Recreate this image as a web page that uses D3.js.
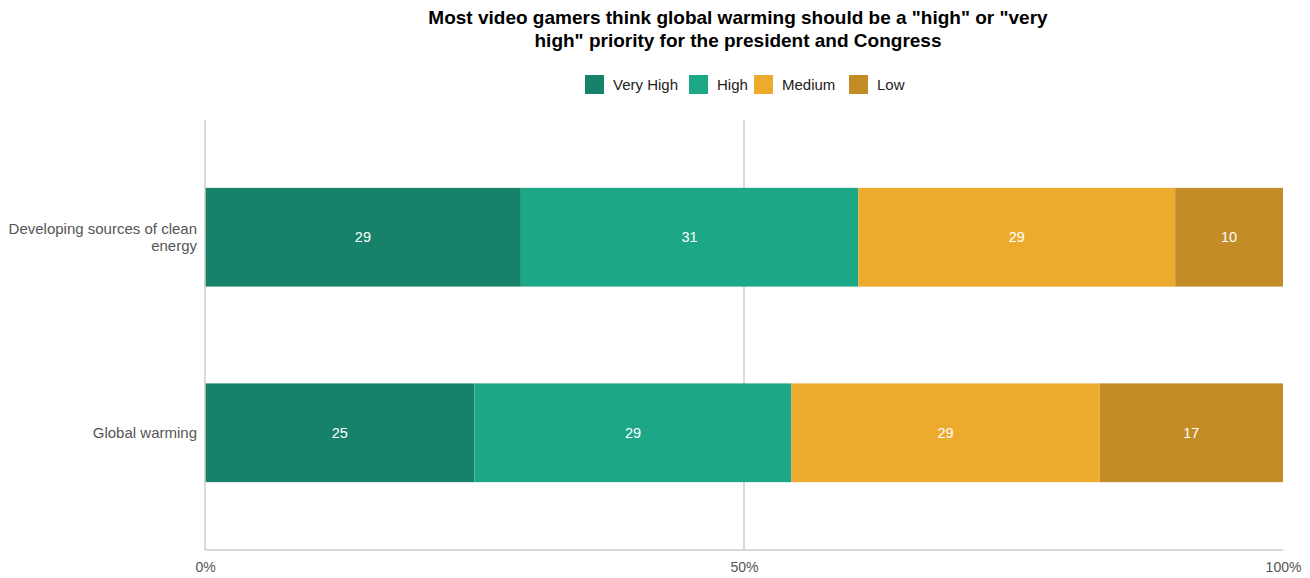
<!DOCTYPE html>
<html><head><meta charset="utf-8">
<script src="https://cdn.jsdelivr.net/npm/d3@7"></script>
<style>body{margin:0;background:#fff;font-family:"Liberation Sans",Arial,sans-serif;}</style>
</head><body>
<svg id="chart" width="1310" height="578"></svg>
<script>
const categories = ["Developing sources of clean energy", "Global warming"];
const seriesNames = ["Very High", "High", "Medium", "Low"];
const veryHigh = [29.3, 25.0];
const high = [31.3, 29.4];
const medium = [29.4, 28.6];
const low = [10.0, 17.0];
const labels = [[29, 31, 29, 10], [25, 29, 29, 17]];
const colors = ["#16826a", "#1ca886", "#edab2e", "#c38c26"];
const tickValues = [0, 0.5, 1];
const tickLabels = ["0%", "50%", "100%"];

(function () {
const rows = categories.map((c, i) => ({cat: c, "Very High": veryHigh[i], "High": high[i], "Medium": medium[i], "Low": low[i]}));
const stack = d3.stack().keys(seriesNames).offset(d3.stackOffsetExpand);
const series = stack(rows);

const svg = d3.select("#chart");
const pLeft = 205, pRight = 1283, pTop = 120, pBottom = 550;
const x = d3.scaleLinear().domain([0, 1]).range([pLeft, pRight]);
const y = d3.scaleBand().domain(categories).range([pTop, pBottom]).paddingInner(0.495).paddingOuter(0.347);

// grid line at 50%
svg.append("line").attr("x1", x(0.5)).attr("x2", x(0.5)).attr("y1", pTop).attr("y2", pBottom)
  .attr("stroke", "#cccccc").attr("stroke-width", 1.5);

// bars
const g = svg.append("g");
series.forEach((s, si) => {
  g.selectAll(null).data(s).enter().append("rect")
    .attr("x", d => x(d[0])).attr("width", d => x(d[1]) - x(d[0]))
    .attr("y", d => y(d.data.cat)).attr("height", y.bandwidth())
    .attr("fill", colors[si]);
  g.selectAll(null).data(s).enter().append("text")
    .attr("x", d => (x(d[0]) + x(d[1])) / 2)
    .attr("y", d => y(d.data.cat) + y.bandwidth() / 2)
    .attr("dy", "0.35em").attr("text-anchor", "middle")
    .attr("fill", "#ffffff").attr("font-size", 14.5)
    .text(d => labels[categories.indexOf(d.data.cat)][si]);
});

// axes lines
svg.append("line").attr("x1", pLeft).attr("x2", pLeft).attr("y1", pTop).attr("y2", pBottom)
  .attr("stroke", "#cccccc").attr("stroke-width", 1.5);
svg.append("line").attr("x1", pLeft).attr("x2", pRight).attr("y1", pBottom).attr("y2", pBottom)
  .attr("stroke", "#cccccc").attr("stroke-width", 1.5);

// x axis
const xAxis = d3.axisBottom(x).tickValues(tickValues).tickFormat((d, i) => tickLabels[i]).tickSize(0).tickPadding(12);
const xa = svg.append("g").attr("transform", `translate(0,${pBottom})`).call(xAxis);
xa.select(".domain").remove();
xa.selectAll("text").attr("font-size", 14).attr("fill", "#555555").attr("font-family", "Liberation Sans, Arial, sans-serif");

// y axis labels
const yLabelLines = {"Developing sources of clean energy": ["Developing sources of clean", "energy"], "Global warming": ["Global warming"]};
categories.forEach(c => {
  const lines = yLabelLines[c];
  const cy = y(c) + y.bandwidth() / 2;
  const t = svg.append("text").attr("text-anchor", "end").attr("font-size", 15).attr("fill", "#555555");
  lines.forEach((l, i) => {
    t.append("tspan").attr("x", pLeft - 8).attr("y", cy + (i - (lines.length - 1) / 2) * 17).attr("dy", "0.35em").text(l);
  });
});

// title
const title = svg.append("text").attr("text-anchor", "middle").attr("font-size", 19).attr("font-weight", "bold").attr("fill", "#000");
title.append("tspan").attr("x", 738).attr("y", 24).text('Most video gamers think global warming should be a "high" or "very');
title.append("tspan").attr("x", 738).attr("y", 47).text('high" priority for the president and Congress');

// legend
const legendX = [585, 689, 754, 849];
const lg = svg.append("g");
seriesNames.forEach((n, i) => {
  const lx = legendX[i];
  lg.append("rect").attr("x", lx).attr("y", 75).attr("width", 19).attr("height", 19).attr("fill", colors[i]);
  lg.append("text").attr("x", lx + 28).attr("y", 85).attr("dy", "0.35em").attr("font-size", 15).attr("fill", "#222").text(n);
});
})();
</script>
</body></html>
